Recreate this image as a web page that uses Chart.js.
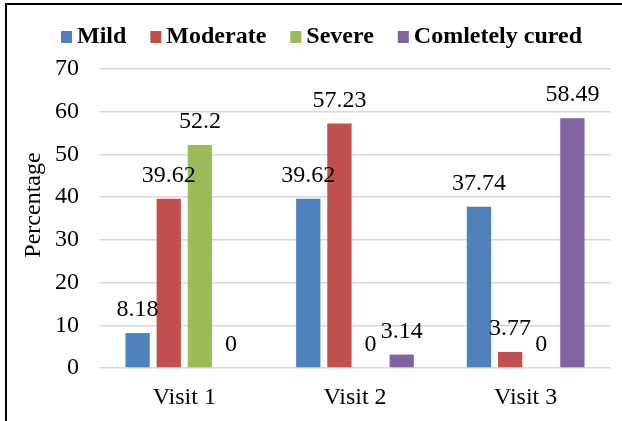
<!DOCTYPE html>
<html>
<head>
<meta charset="utf-8">
<script src="https://cdn.jsdelivr.net/npm/chart.js@4.4.1/dist/chart.umd.min.js"></script>
<style>
  html, body { margin: 0; padding: 0; background: #fff; }
  #wrap { position: relative; width: 622px; height: 421px; overflow: hidden; }
  #frame { position: absolute; left: 5px; top: 3px; width: 640px; height: 440px;
           border: 2px solid #000; pointer-events: none; }
  canvas { position: absolute; left: 0; top: 0; }
</style>
</head>
<body>
<div id="wrap">
  <canvas id="c" width="622" height="421"></canvas>
  <div id="frame"></div>
</div>
<script>
const categories = ['Visit 1', 'Visit 2', 'Visit 3'];
const seriesNames = ['Mild', 'Moderate', 'Severe', 'Comletely cured'];
const mild = [8.18, 39.62, 37.74];
const moderate = [39.62, 57.23, 3.77];
const severe = [52.2, 0, 0];
const cured = [0, 3.14, 58.49];
const yTicks = [0, 10, 20, 30, 40, 50, 60, 70];
const yTitle = 'Percentage';

const colors = ['#4f81bd', '#c0504d', '#9bbb59', '#8064a2'];
const serif = '"Liberation Serif", "Times New Roman", serif';

// Value labels drawn above each bar
const valueLabels = {
  id: 'valueLabels',
  afterDatasetsDraw(chart) {
    const ctx = chart.ctx;
    ctx.save();
    ctx.font = '24px ' + serif;
    ctx.fillStyle = '#000';
    ctx.textAlign = 'center';
    ctx.textBaseline = 'alphabetic';
    chart.data.datasets.forEach((ds, i) => {
      chart.getDatasetMeta(i).data.forEach((bar, j) => {
        ctx.fillText(String(ds.data[j]), bar.x, bar.y - 17);
      });
    });
    ctx.restore();
  }
};

// Bold legend row across the top, plus the rotated y-axis title
const topLegend = {
  id: 'topLegend',
  afterDraw(chart) {
    const ctx = chart.ctx;
    ctx.save();
    ctx.font = 'bold 24px ' + serif;
    ctx.textBaseline = 'alphabetic';
    ctx.textAlign = 'left';
    let x = 61;
    const baseY = 43;
    chart.data.datasets.forEach((ds) => {
      ctx.fillStyle = ds.backgroundColor;
      ctx.fillRect(x, 31, 11, 12);
      x += 16;
      ctx.fillStyle = '#000';
      ctx.fillText(ds.label, x, baseY);
      x += ctx.measureText(ds.label).width + 24;
    });
    ctx.restore();

    ctx.save();
    ctx.font = '24px ' + serif;
    ctx.fillStyle = '#000';
    ctx.textAlign = 'center';
    ctx.textBaseline = 'middle';
    ctx.translate(34, 205);
    ctx.rotate(-Math.PI / 2);
    ctx.fillText(yTitle, 0, 0);
    ctx.restore();
  }
};

new Chart(document.getElementById('c'), {
  type: 'bar',
  data: {
    labels: categories,
    datasets: [mild, moderate, severe, cured].map((d, i) => ({
      label: seriesNames[i],
      data: d,
      backgroundColor: colors[i],
      borderWidth: 0,
      categoryPercentage: 0.73,
      barPercentage: 0.78
    }))
  },
  options: {
    responsive: false,
    animation: false,
    devicePixelRatio: 1,
    layout: { padding: { left: 0, right: 11, top: 69, bottom: 0 } },
    plugins: {
      legend: { display: false },
      tooltip: { enabled: false }
    },
    scales: {
      x: {
        grid: { display: false },
        border: { display: false },
        ticks: { color: '#000', padding: 7, font: { family: serif, size: 24 } },
        afterFit(s) { s.height = 53; }
      },
      y: {
        min: 0,
        max: 70,
        afterBuildTicks(s) { s.ticks = yTicks.map(v => ({ value: v })); },
        grid: { color: '#d9d9d9', lineWidth: 1.5, drawTicks: false },
        border: { display: false },
        ticks: { color: '#000', padding: 20, font: { family: serif, size: 24 } },
        afterFit(s) { s.width = 99; }
      }
    }
  },
  plugins: [valueLabels, topLegend]
});
</script>
</body>
</html>
